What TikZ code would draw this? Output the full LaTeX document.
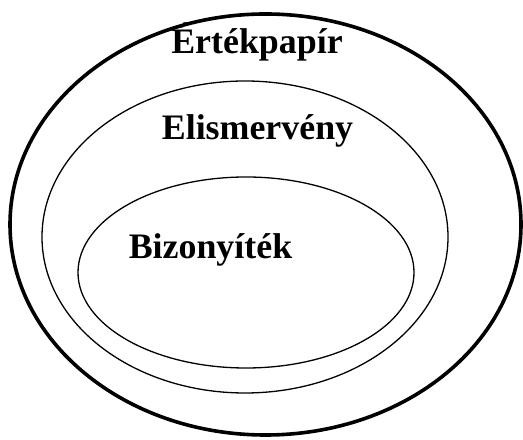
\documentclass[tikz,border=0pt]{standalone}
\usepackage{fontspec}
\setmainfont{Liberation Serif}
\usepackage{tikz}

\begin{document}
\begin{tikzpicture}[x=1bp, y=1bp, line cap=round, line join=round]

    \useasboundingbox (0,0) rectangle (523,440);

    \tikzset{halmaz/.style={font=\fontsize{36}{40}\selectfont\bfseries, anchor=base, inner sep=0pt}}

    \coordinate (O) at (265.5,215.5);
    \coordinate (M) at (245,203);
    \coordinate (B) at (246,167.5);

    \draw[line width=3.6bp] (O) ellipse [x radius=255.5bp, y radius=210.5bp];
    \draw[line width=1.3bp] (M) ellipse [x radius=203bp, y radius=156bp];
    \draw[line width=1.3bp] (B) ellipse [x radius=168bp, y radius=95.5bp];

    \node[halmaz] (ertek) at (257,386) {Értékpapír};
    \node[halmaz] (elism) at (257.5,300) {Elismervény};
    \node[halmaz] (bizony) at (210.5,181) {Bizonyíték};

\end{tikzpicture}
\end{document}
